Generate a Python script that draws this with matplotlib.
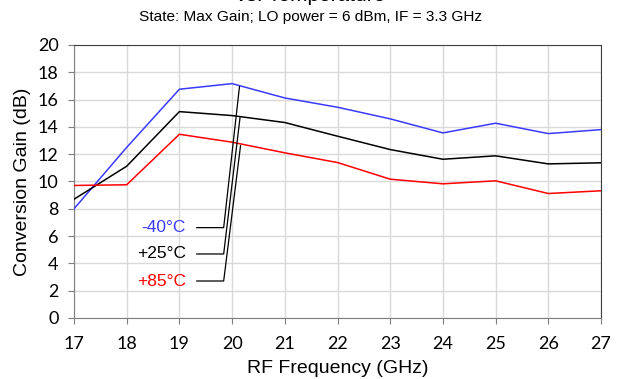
import matplotlib
matplotlib.use("Agg")
import matplotlib.pyplot as plt

# Conversion gain vs RF frequency at three temperatures
freq = [17, 18, 19, 20, 21, 22, 23, 24, 25, 26, 27]
gain_m40 = [8.0, 12.5, 16.76, 17.17, 16.12, 15.44, 14.59, 13.56, 14.27, 13.51, 13.80]
gain_p25 = [8.7, 11.12, 15.12, 14.83, 14.32, 13.32, 12.34, 11.63, 11.88, 11.29, 11.37]
gain_p85 = [9.71, 9.76, 13.46, 12.88, 12.10, 11.39, 10.17, 9.83, 10.05, 9.12, 9.32]

labels = ["-40°C", "+25°C", "+85°C"]
colors = ["#3a3aff", "black", "red"]
series = [gain_m40, gain_p25, gain_p85]

# label anchor (x, y) and where the leader line ends on the curve
label_pos = [(19.12, 6.62), (19.12, 4.69), (19.12, 2.71)]
leader_bend = [(19.33, 19.84), (19.33, 19.84), (19.33, 19.84)]
leader_tip = [(20.14, 16.95), (20.15, 14.67), (20.16, 12.62)]

plt.rcParams["font.family"] = ["Liberation Sans", "DejaVu Sans"]

fig = plt.figure(figsize=(6.21, 3.79), dpi=100)
ax = fig.add_axes([74 / 621, 1 - 318 / 379, 527 / 621, 273 / 379])

for vals, col in zip(series, colors):
    ax.plot(freq, vals, color=col, linewidth=1.1, zorder=3)

# leader lines + labels
for (tx, ty), (b0, b1), (lx, ly), lab, col in zip(label_pos, leader_bend, leader_tip, labels, colors):
    ax.plot([b0, b1, lx], [ty, ty, ly], color="black", linewidth=0.9, zorder=4)
    ax.text(tx, ty, lab, color=col, fontsize=12.5, ha="right", va="center")

ax.set_xlim(17, 27)
ax.set_ylim(0, 20)
ax.set_xticks(freq)
ax.set_yticks(range(0, 21, 2))
ax.grid(True, color="#d9d9d9", linewidth=1.0, zorder=0)
ax.set_axisbelow(True)

for s in ["left", "bottom"]:
    ax.spines[s].set_color("#7f7f7f")
for s in ["top", "right"]:
    ax.spines[s].set_color("#404040")
ax.tick_params(axis="both", direction="out", length=4, color="#7f7f7f",
               labelsize=13, pad=7)
ax.tick_params(axis="x", pad=9)
for t in ax.get_xticklabels() + ax.get_yticklabels():
    t.set_fontfamily(["Lato", "DejaVu Sans"])

ax.set_xlabel("RF Frequency (GHz)", fontsize=14, labelpad=6)
ax.set_ylabel("Conversion Gain (dB)", fontsize=14, labelpad=5)

fig.text(0.5, 1.013, "vs. Temperature", ha="center", va="center", fontsize=15)
fig.text(0.5, 1 - 17.5 / 379, "State: Max Gain; LO power = 6 dBm, IF = 3.3 GHz",
         ha="center", va="center", fontsize=11.1)

fig.savefig("out.png", dpi=100)
